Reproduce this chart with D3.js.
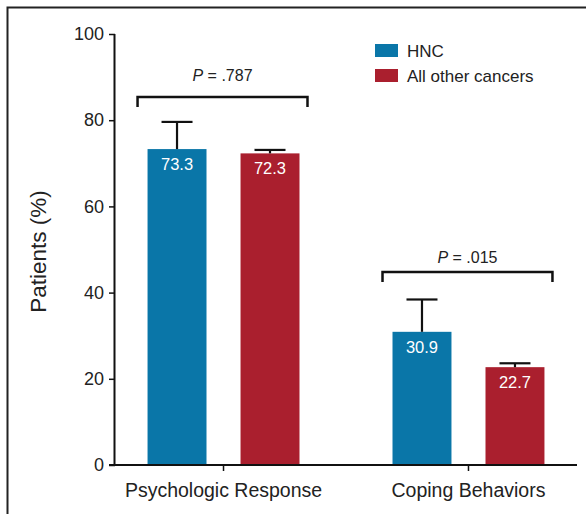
<!DOCTYPE html>
<html>
<head>
<meta charset="utf-8">
<script src="https://cdn.jsdelivr.net/npm/d3@7"></script>
<style>
  body { margin: 0; background: #fff; }
  svg { font-family: "Liberation Sans", Arial, sans-serif; }
</style>
</head>
<body>
<svg width="586" height="514"></svg>
<script>
const categories = ["Psychologic Response", "Coping Behaviors"];
const groups = ["HNC", "All other cancers"];
const hncValues = [73.3, 30.9];
const otherValues = [72.3, 22.7];
const hncErrorTop = [79.6, 38.4];
const otherErrorTop = [73.1, 23.6];
const pValues = [".787", ".015"];
const bracketLevels = [85.4, 44.8];
const pLabelLevels = [89.2, 46.9];
const yTicks = [0, 20, 40, 60, 80, 100];

const colors = { "HNC": "#0a76a8", "All other cancers": "#aa1f2e" };

const width = 586, height = 514;
const margin = { top: 34, right: 9, bottom: 49, left: 115 };

const svg = d3.select("svg");

// outer frame (top + left only, runs off the picture)
svg.append("path")
    .attr("d", `M7.5,${height} V7.5 H${width}`)
    .attr("fill", "none")
    .attr("stroke", "#222")
    .attr("stroke-width", 2);

const y = d3.scaleLinear()
    .domain([0, 100])
    .range([height - margin.bottom, margin.top]);

const x0 = d3.scaleBand()
    .domain(categories)
    .range([margin.left, width - margin.right])
    .paddingInner(0.114)
    .paddingOuter(0);

const x1 = d3.scaleBand()
    .domain(groups)
    .range([0, x0.bandwidth()])
    .paddingInner(0.366)
    .paddingOuter(0.35);

const data = [];
categories.forEach((c, i) => {
    data.push({ cat: c, grp: groups[0], value: hncValues[i], err: hncErrorTop[i] });
    data.push({ cat: c, grp: groups[1], value: otherValues[i], err: otherErrorTop[i] });
});

// bars
svg.append("g").selectAll("rect")
    .data(data)
    .enter()
    .append("rect")
    .attr("x", d => x0(d.cat) + x1(d.grp))
    .attr("y", d => y(d.value))
    .attr("width", x1.bandwidth())
    .attr("height", d => y(0) - y(d.value))
    .attr("fill", d => colors[d.grp]);

// error bars
const capW = 31;
const eb = svg.append("g").attr("stroke", "#111").attr("stroke-width", 2.2);
data.forEach(d => {
    const cx = x0(d.cat) + x1(d.grp) + x1.bandwidth() / 2;
    eb.append("line")
        .attr("x1", cx).attr("x2", cx)
        .attr("y1", y(d.value)).attr("y2", y(d.err));
    eb.append("line")
        .attr("x1", cx - capW / 2).attr("x2", cx + capW / 2)
        .attr("y1", y(d.err)).attr("y2", y(d.err));
});

// value labels
svg.append("g").selectAll("text")
    .data(data)
    .enter()
    .append("text")
    .attr("x", d => x0(d.cat) + x1(d.grp) + x1.bandwidth() / 2)
    .attr("y", d => y(d.value) + 21)
    .attr("text-anchor", "middle")
    .attr("fill", "#fff")
    .style("font-size", "16.5px")
    .text(d => d.value.toFixed(1));

// axes
const yAxis = svg.append("g")
    .attr("transform", `translate(${margin.left},0)`)
    .call(d3.axisLeft(y).tickValues(yTicks).tickSize(6).tickPadding(5));
const xAxis = svg.append("g")
    .attr("transform", `translate(0,${y(0)})`)
    .call(d3.axisBottom(x0).tickSize(6).tickPadding(12));

[yAxis, xAxis].forEach(a => {
    a.attr("font-family", null);
    a.select(".domain").attr("stroke", "#111").attr("stroke-width", 2);
    a.selectAll(".tick line").attr("stroke", "#111").attr("stroke-width", 1.5);
    a.selectAll("text").attr("fill", "#222");
});
yAxis.select(".domain").attr("d", `M-0.5,${y(100)}V${y(0)}`);
xAxis.select(".domain").attr("d", `M${margin.left - 6},0H${width - margin.right}`);
yAxis.selectAll("text").style("font-size", "18px");
xAxis.selectAll("text").style("font-size", "19.5px");

// y axis title
svg.append("text")
    .attr("transform", `translate(46,${(y(0) + y(100)) / 2 + 2}) rotate(-90)`)
    .attr("text-anchor", "middle")
    .attr("fill", "#222")
    .style("font-size", "22.5px")
    .text("Patients (%)");

// significance brackets
const br = svg.append("g");
categories.forEach((c, i) => {
    const xa = x0(c) + x1(groups[0]) - 10;
    const xb = x0(c) + x1(groups[1]) + x1.bandwidth() + 8;
    const yb = y(bracketLevels[i]);
    br.append("path")
        .attr("d", `M${xa},${yb + 10}V${yb}H${xb}V${yb + 10}`)
        .attr("fill", "none")
        .attr("stroke", "#111")
        .attr("stroke-width", 2.5);
    const t = br.append("text")
        .attr("x", (xa + xb) / 2)
        .attr("y", y(pLabelLevels[i]))
        .attr("text-anchor", "middle")
        .attr("fill", "#222")
        .style("font-size", "16px");
    t.append("tspan").style("font-style", "italic").text("P");
    t.append("tspan").text(" = " + pValues[i]);
});

// legend
const legend = svg.append("g").attr("transform", "translate(375,44)");
groups.forEach((g, i) => {
    const row = legend.append("g").attr("transform", `translate(0,${i * 25})`);
    row.append("rect")
        .attr("width", 23).attr("height", 13)
        .attr("fill", colors[g]);
    row.append("text")
        .attr("x", 32).attr("y", 12.5)
        .attr("fill", "#222")
        .style("font-size", "17px")
        .text(g);
});
</script>
</body>
</html>
